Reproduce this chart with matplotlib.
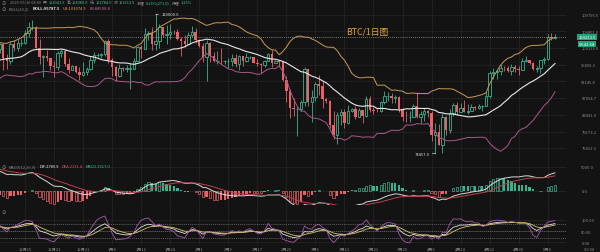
import numpy as np
import pandas as pd
import matplotlib
matplotlib.use("Agg")
import matplotlib.pyplot as plt

plt.rcParams['font.family'] = ['Noto Sans CJK SC', 'DejaVu Sans']

# ---------------- data (daily BTC candles) ----------------
# closes of October 2024, used only to warm up the indicators (not drawn)
warmup_close = [
    60800, 60600, 60800, 62100, 62100, 62800, 62200, 62100, 60600, 60300, 62400, 63200, 62800, 66000, 67000,
    67600, 67400, 68400, 68400, 69000, 67400, 67400, 66700, 68200, 66600, 67000, 68000, 69900, 72700, 72300, 70200,
]
start_date = "2024-11-01"
first_open = 70200.0
close = [
    69500, 69300, 68700, 67800, 69400, 75600, 75900, 76500, 76700, 80400, 88700, 88000, 90500, 87400, 91100,
    90600, 89800, 90500, 92300, 94300, 98400, 98900, 97700, 98000, 93000, 91900, 95900, 95600, 97500, 96400,
    97200, 95800, 96000, 98600, 96600, 99900, 99900, 101100, 97400, 96600, 101200, 100000, 101400, 101400, 104300,
    106100, 106100, 100200, 97500, 97800, 97300, 95200, 94900, 98700, 99300, 95800, 94200, 95100, 93700, 92800, 93600,
    94400, 96900, 98100, 98200, 98300, 102200, 96900, 95000, 92500, 94700, 94500, 94500, 94500, 96500, 100500,
    99900, 104100, 104500, 101300, 102000, 106100, 103700, 104000, 104800, 104700, 102600, 102100, 101300, 103700, 104700, 102400,
    100600, 97700, 101400, 97900, 96600, 96600, 96500, 96500, 96500, 97400, 95800, 97900, 96600, 97500,
    97600, 96100, 95800, 95500, 96600, 98300, 96100, 96600, 96300, 91500, 88700, 84700, 84400, 84400,
    86000, 94300, 86100, 87200, 90600, 89900, 86700, 86200, 80700, 78500, 82900, 83700, 81100, 83900, 84300,
    82600, 84100, 82700, 86800, 84200, 84000, 83800, 86000, 87400, 87600, 86900, 87200, 84400, 82600, 82400, 82500,
    85200, 82500, 83100, 83900, 83500, 78400, 79200, 76300, 82600, 79600, 83400, 85300, 83700, 84500, 83600,
    84000, 84900, 84500, 85100, 85100, 87500, 93400, 93700, 93900, 94700, 94600, 93800, 94900, 94300, 94200,
    96500, 96900, 95900, 94300, 94700, 96800, 97000, 103200, 102941.9, 103213.5,
]
high = [
    71600, 70000, 69400, 69000, 70600, 76400, 76900, 77200, 77000, 81500, 89500, 89900, 93300, 91800, 91900,
    91500, 91400, 92600, 94000, 94900, 98900, 99600, 98800, 98600, 98900, 94800, 97200, 96600, 98700, 97500,
    98000, 98200, 96300, 99000, 104000, 101900, 100500, 101400, 101200, 98300, 101900, 102500, 102600, 102700, 105200,
    107800, 108400, 106500, 102800, 98200, 99500, 97400, 96400, 99400, 99900, 99900, 97300, 95500, 95200, 94900, 96200,
    94900, 97800, 98900, 98700, 98800, 102500, 102700, 97300, 95300, 95800, 94900, 95400, 95900, 97400, 100700,
    100900, 105900, 104900, 106300, 110000, 107200, 106300, 106800, 107100, 105300, 105500, 103200, 103800, 104800, 106500, 106000,
    102800, 101500, 102500, 101700, 99000, 99200, 100100, 96900, 97300, 98300, 98500, 98100, 98000, 98800,
    97900, 97700, 97000, 96000, 96900, 98800, 99500, 96900, 96500, 96500, 92500, 89300, 87100, 85100,
    86600, 95000, 94400, 88900, 91000, 92800, 91300, 86900, 86500, 83900, 83600, 84400, 84300, 85300, 84700,
    85000, 84700, 84100, 87500, 87400, 84800, 84600, 86300, 88800, 88500, 88300, 87800, 87500, 84600, 83900, 83900,
    85600, 88500, 83900, 84700, 84200, 83800, 81200, 80800, 83500, 82700, 84300, 85900, 86000, 85800, 86500,
    85500, 85500, 85000, 85600, 85300, 88800, 93800, 94700, 94000, 95800, 95300, 95300, 95600, 95400, 95200,
    97400, 97900, 96900, 96300, 95200, 96900, 97700, 104000, 104400, 104085.0,
]
low = [
    68800, 68900, 67500, 66800, 67500, 69300, 74500, 75600, 75800, 76500, 80200, 85100, 86600, 86700, 87100,
    90100, 88800, 89400, 90900, 91500, 94100, 97200, 97200, 95700, 92600, 90800, 91800, 94700, 95400, 96100,
    95700, 94300, 93600, 94600, 90500, 95900, 98800, 98700, 94200, 94300, 95700, 99300, 99200, 100600, 101200,
    103300, 105300, 100000, 95700, 92200, 96400, 94200, 92400, 94200, 97600, 95100, 93400, 94000, 93300, 91400, 92600,
    92800, 94200, 96000, 97500, 97300, 97900, 96100, 92500, 91200, 92200, 93800, 93700, 89300, 94300, 96500,
    97300, 99900, 102300, 99500, 99600, 100100, 103300, 101200, 102800, 104100, 102500, 97800, 100300, 101300, 103300, 101600,
    100300, 96200, 91200, 96200, 96200, 95700, 95700, 95700, 94700, 95300, 94900, 94100, 95200, 96300,
    97100, 96000, 95200, 93400, 95000, 96400, 94900, 96000, 95200, 91200, 86100, 82300, 82800, 78300,
    83800, 85100, 85100, 81400, 86300, 87800, 84700, 85800, 80000, 77500, 76600, 80600, 79900, 80800, 83600,
    82000, 82500, 81100, 82600, 83600, 83200, 83600, 83700, 85500, 86300, 85900, 85900, 83600, 81600, 81300, 81300,
    82400, 82300, 81200, 81700, 82400, 77200, 74457.0, 76200, 74600, 78400, 78900, 82800, 82900, 83700, 83600,
    83100, 83900, 84100, 84300, 83900, 85100, 87100, 91900, 91700, 92900, 93900, 93600, 92900, 93700, 92900,
    94100, 96300, 95700, 94000, 93500, 93400, 95800, 96900, 102300, 102784.0,
]
date_labels = ["12月15", "12月23", "12月31", "1月8", "1月16", "1月24", "2月1", "2月9", "2月17", "2月25",
               "3月5", "3月13", "3月21", "3月29", "4月6", "4月14", "4月22", "4月30", "5月8"]
price_ticks = [109795.5, 104851.6, 100129.0, 95490.3, 91145.8, 87054.7, 83041.0, 79173.2, 75661.0]
price_tick_labels = ["109795.5", "104851.6", "100129.0", "95490.3", "91145.8", "87054.7", "83041.0", "79173.2", "75661.0"]
macd_ticks = [5000.0, 0.0]
macd_tick_labels = ["5000.0", "0.0"]
kdj_ticks = [100, 50, 0]
kdj_tick_labels = ["100.00", "50.00", "0.00"]
header_row = [("2025-05-10 08:00", "#8a8a8a"), ("开", "#8a8a8a"), ("102941.9", "#3bc79a"),
              ("高", "#8a8a8a"), ("104085.0", "#3bc79a"), ("低", "#8a8a8a"), ("102784.0", "#3bc79a"),
              ("收", "#8a8a8a"), ("103213.5", "#3bc79a"), ("涨幅", "#8a8a8a"), ("0.26%(271.6)", "#3bc79a"),
              ("振幅", "#8a8a8a"), ("1.26%", "#3bc79a")]
boll_row = [("BOLL(20,2)", "#8a8a8a"), ("BOLL:95787.5", "#f0f0f0"), ("UB:103074.5", "#d6a85e"), ("LB:88500.4", "#d070b0")]
macd_row = [("MACD(12,26,9)", "#8a8a8a"), ("DIF:2789.9", "#f0f0f0"), ("DEA:2131.4", "#e0525c"), ("MACD:1317.0", "#3bc79a")]
current_price = 103213.5
countdown = "03:42:58"
high_label = "110000.0"
low_label = "74457.0"

# ---------------- derived series ----------------
dates = pd.date_range(start_date, periods=len(close), freq="D")
nw = len(warmup_close)
c_all = pd.Series(warmup_close + close, dtype=float)
c = pd.Series(close, dtype=float)
h = pd.Series(high, dtype=float)
l = pd.Series(low, dtype=float)
o = c.shift(1)
o.iloc[0] = first_open
idx = np.arange(len(c))

mid = c_all.rolling(20).mean().values[nw:]
sd = c_all.rolling(20).std(ddof=0).values[nw:]
ub = mid + 2 * sd
lb = mid - 2 * sd

ema12 = c_all.ewm(span=12, adjust=False).mean()
ema26 = c_all.ewm(span=26, adjust=False).mean()
dif_all = ema12 - ema26
dea_all = dif_all.ewm(span=9, adjust=False).mean()
dif = dif_all.values[nw:]
dea = dea_all.values[nw:]
hist = 2 * (dif - dea)

llv = l.rolling(9, min_periods=1).min()
hhv = h.rolling(9, min_periods=1).max()
rsv = (c - llv) / (hhv - llv) * 100
K = np.zeros(len(c)); D = np.zeros(len(c))
kp, dp = 50.0, 50.0
for i in range(len(c)):
    kp = 2 / 3 * kp + rsv.iloc[i] / 3
    dp = 2 / 3 * dp + kp / 3
    K[i], D[i] = kp, dp
J = 3 * K - 2 * D

# ---------------- layout ----------------
W, H = 600, 253
BG = "#131313"
GRID = "#272727"
UP = "#3bb28f"
DN = "#e8606a"
fig = plt.figure(figsize=(W / 100, H / 100), dpi=100, facecolor=BG)

def fx(px): return px / W
def fy(py): return 1 - py / H

AXW = 566
ax = fig.add_axes([0, fy(157), AXW / W, 157 / H])
axm = fig.add_axes([0, fy(206), AXW / W, 49 / H])
axk = fig.add_axes([0, fy(246), AXW / W, 40 / H])

d0 = dates.get_loc(pd.Timestamp("2024-12-15"))
PXD = 3.63
xl = d0 - 25 / PXD
xr = xl + AXW / PXD
tick_pos = [d0 + 8 * k for k in range(len(date_labels))]

P0, Y0, KS = 109795.5, 16.0, 357.0
def price_at(py): return P0 * np.exp((Y0 - py) / KS)

for a in (ax, axm, axk):
    a.set_facecolor(BG)
    a.set_xlim(xl, xr)
    for s in a.spines.values():
        s.set_visible(False)
    a.set_xticks(tick_pos)
    a.tick_params(length=0, labelsize=3.0, colors="#8a8a8a")
    a.grid(True, color=GRID, lw=0.5)
    a.set_axisbelow(True)
    a.yaxis.tick_right()
    a.tick_params(axis='y', pad=11)

ax.set_yscale("log")
ax.set_ylim(price_at(157), price_at(0))
ax.yaxis.set_minor_locator(matplotlib.ticker.NullLocator())
ax.set_yticks(price_ticks)
ax.set_yticklabels(price_tick_labels)
ax.set_xticklabels([])

# candles
vis = (idx >= xl - 1) & (idx <= xr + 1)
bw = 0.66
for i in idx[vis]:
    oi, ci, hi, li = o.iloc[i], c.iloc[i], h.iloc[i], l.iloc[i]
    top, bot = max(oi, ci), min(oi, ci)
    if ci >= oi:
        ax.vlines(i, top, max(hi, top), color=UP, lw=0.6, zorder=3)
        ax.vlines(i, min(li, bot), bot, color=UP, lw=0.6, zorder=3)
        ax.bar(i, max(top - bot, top * 0.0004), bottom=bot, width=bw, facecolor=BG, edgecolor=UP, lw=0.6, zorder=4)
    else:
        ax.vlines(i, min(li, bot), max(hi, top), color=DN, lw=0.6, zorder=3)
        ax.bar(i, max(top - bot, top * 0.0004), bottom=bot, width=bw, color=DN, lw=0, zorder=4)

ax.plot(idx, mid, color="#e8e8e8", lw=0.8, zorder=5)
ax.plot(idx, ub, color="#c69a58", lw=0.7, zorder=5)
ax.plot(idx, lb, color="#a8588c", lw=0.7, zorder=5)
ax.axhline(current_price, color="#a0a0a0", lw=0.6, ls=(0, (1, 1.5)), zorder=6)

ih = int(np.argmax(h.values[vis])) + idx[vis][0]
il = int(np.argmin(l.values[vis])) + idx[vis][0]
ax.annotate(high_label, xy=(ih, h.iloc[ih]), xytext=(4, 0), textcoords="offset points",
            color="#e0e0e0", fontsize=3.0, va="center", ha="left",
            arrowprops=dict(arrowstyle="-", color="#e0e0e0", lw=0.5, shrinkA=0, shrinkB=0))
ax.annotate(low_label, xy=(il, l.iloc[il]), xytext=(-4, 0), textcoords="offset points",
            color="#e0e0e0", fontsize=3.0, va="center", ha="right",
            arrowprops=dict(arrowstyle="-", color="#e0e0e0", lw=0.5, shrinkA=0, shrinkB=0))

# MACD
axm.set_ylim((192 - 206) / 4.8 * 1000, (192 - 157) / 4.8 * 1000)
axm.set_yticks(macd_ticks)
axm.set_yticklabels(macd_tick_labels)
axm.set_xticklabels([])
for i in idx[vis]:
    v = hist[i]
    pv = hist[i - 1]
    col = UP if v >= 0 else DN
    growing = abs(v) >= abs(pv)
    if growing:
        axm.bar(i, v, width=0.6, facecolor=BG, edgecolor=col, lw=0.5, zorder=3)
    else:
        axm.bar(i, v, width=0.6, color=col, lw=0, zorder=3)
axm.plot(idx, dif, color="#d8d8d8", lw=0.7, zorder=4)
axm.plot(idx, dea, color="#b8444c", lw=0.7, zorder=4)

# KDJ
axk.set_ylim((243.3 - 246) / 0.226, (243.3 - 206) / 0.226)
axk.set_yticks(kdj_ticks)
axk.set_yticklabels(kdj_tick_labels)
axk.set_xticklabels(date_labels)
axk.tick_params(axis='x', pad=1.2)
for lv in (80, 50, 20):
    axk.axhline(lv, color="#7a7a7a", lw=0.5, ls=(0, (1.5, 1.5)), zorder=2)
axk.plot(idx, K, color="#e0e0e0", lw=0.6, zorder=4)
axk.plot(idx, D, color="#d8c465", lw=0.6, zorder=4)
axk.plot(idx, J, color="#a45aa8", lw=0.6, zorder=4)

# ---------------- texts ----------------
fig.canvas.draw()
rend = fig.canvas.get_renderer()

def seq(xp, yp, parts, size, gap=3.0, bold_idx=()):
    x = xp
    for k, (s, col) in enumerate(parts):
        t = fig.text(fx(x), fy(yp), s, color=col, fontsize=size, va="center", ha="left",
                     fontweight="bold" if k in bold_idx else "normal")
        x += t.get_window_extent(rend).width + gap

seq(10, 3.2, header_row, 2.8, gap=1.6)
fig.text(fx(4), fy(3.2), "⊙", color="#8a8a8a", fontsize=3.2, va="center", ha="center")
fig.text(fx(4), fy(9.5), "⊙", color="#8a8a8a", fontsize=3.2, va="center", ha="center")
seq(9, 9.5, boll_row, 2.9, gap=3.0, bold_idx=(1,))
fig.text(fx(4), fy(167.5), "⊙", color="#8a8a8a", fontsize=3.2, va="center", ha="center")
seq(9, 167.5, macd_row, 2.9, gap=3.0)
fig.text(fx(4), fy(213), "⊙", color="#8a8a8a", fontsize=3.2, va="center", ha="center")

fig.text(fx(367), fy(32), "BTC/1日图", color="#e3a23b", fontsize=6.3, va="center", ha="center")

ycp = Y0 + KS * np.log(P0 / current_price)
fig.text(fx(587), fy(ycp), f"{current_price:.1f}", color="#ffffff", fontsize=3.0, va="center", ha="center",
         bbox=dict(boxstyle="square,pad=0.25", fc="#1fa37a", ec="none"))
fig.text(fx(587), fy(ycp + 7), countdown, color="#ffffff", fontsize=3.0, va="center", ha="center",
         bbox=dict(boxstyle="square,pad=0.25", fc="#1fa37a", ec="none"))
fig.text(fx(584), fy(250), "06 08", color="#8a8a8a", fontsize=3.0, va="center", ha="left")

fig.savefig("out.png", dpi=100, facecolor=BG)
